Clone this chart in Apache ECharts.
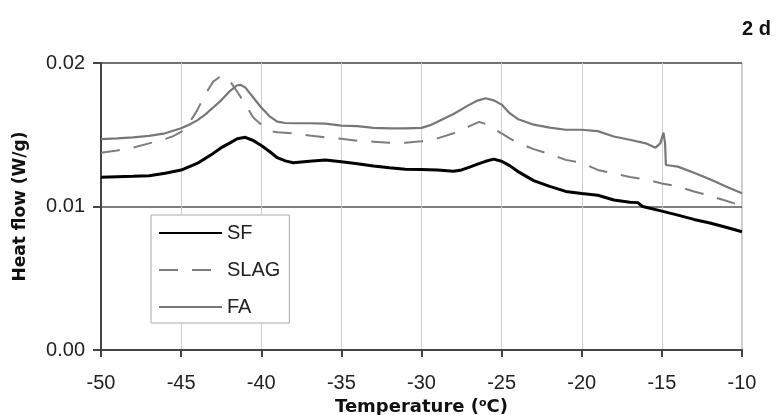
<!DOCTYPE html>
<html>
<head>
<meta charset="utf-8">
<script src="https://cdn.jsdelivr.net/npm/echarts@6/dist/echarts.min.js"></script>
<style>
  html, body { margin: 0; padding: 0; background: #fff; }
  #chart { width: 781px; height: 415px; }
</style>
</head>
<body>
<div id="chart"></div>
<script>
// Heat flow curves (W/g) against temperature (°C), one pair of arrays per binder.
const sfTemp = [-50, -48, -47, -46, -45, -44, -43.5, -43, -42.5, -42, -41.5, -41, -40.5, -40, -39.5, -39, -38.5, -38, -37, -36, -35, -34, -33, -32, -31, -30, -29, -28, -27.5, -27, -26.5, -26, -25.5, -25, -24.5, -24, -23, -22, -21, -20, -19, -18, -17, -16.5, -16.2, -15, -14, -13, -12, -11, -10];
const sfFlow = [0.01203, 0.01210, 0.01215, 0.01232, 0.01254, 0.01300, 0.01335, 0.01370, 0.01410, 0.01440, 0.01472, 0.01482, 0.01460, 0.01425, 0.01385, 0.01340, 0.01318, 0.01305, 0.01315, 0.01324, 0.01312, 0.01298, 0.01283, 0.01270, 0.01260, 0.01258, 0.01255, 0.01245, 0.01255, 0.01275, 0.01295, 0.01315, 0.01330, 0.01315, 0.01285, 0.01245, 0.01180, 0.01140, 0.01105, 0.01090, 0.01078, 0.01045, 0.01030, 0.01027, 0.01000, 0.00968, 0.00940, 0.00910, 0.00885, 0.00855, 0.00824];

const slagTemp = [-50, -49, -48, -47, -46, -45.5, -45, -44.5, -44, -43.5, -43, -42.5, -42, -41.5, -41, -40.5, -40, -39.5, -39, -38, -37, -36, -35, -34, -33, -32, -31, -30, -29, -28, -27, -26.4, -26, -25.5, -25, -24.5, -24, -23, -22, -21, -20, -19, -18, -17, -16, -15, -14, -13, -12, -11, -10];
const slagFlow = [0.01375, 0.01390, 0.01410, 0.01440, 0.01470, 0.01490, 0.01520, 0.01580, 0.01670, 0.01780, 0.01870, 0.01910, 0.01880, 0.01800, 0.01715, 0.01620, 0.01570, 0.01525, 0.01518, 0.01510, 0.01495, 0.01482, 0.01472, 0.01458, 0.01452, 0.01445, 0.01445, 0.01455, 0.01475, 0.01510, 0.01560, 0.01590, 0.01575, 0.01540, 0.01510, 0.01475, 0.01445, 0.01400, 0.01365, 0.01325, 0.01305, 0.01255, 0.01230, 0.01205, 0.01190, 0.01160, 0.01140, 0.01105, 0.01075, 0.01040, 0.01005];

const faTemp = [-50, -49, -48, -47, -46, -45, -44.5, -44, -43.5, -43, -42.5, -42, -41.5, -41.3, -41, -40.5, -40, -39.5, -39, -38.5, -38, -37, -36, -35, -34, -33, -32, -31, -30, -29.5, -29, -28, -27, -26.5, -26, -25.5, -25, -24.5, -24, -23, -22, -21, -20, -19, -18, -17, -16, -15.4, -15.1, -14.9, -14.8, -14.75, -14, -13, -12, -11, -10];
const faFlow = [0.01470, 0.01475, 0.01482, 0.01492, 0.01510, 0.01545, 0.01570, 0.01600, 0.01640, 0.01690, 0.01740, 0.01800, 0.01845, 0.01848, 0.01830, 0.01760, 0.01690, 0.01630, 0.01592, 0.01582, 0.01580, 0.01580, 0.01578, 0.01563, 0.01560, 0.01548, 0.01545, 0.01545, 0.01548, 0.01565, 0.01590, 0.01645, 0.01710, 0.01738, 0.01754, 0.01740, 0.01710, 0.01650, 0.01610, 0.01570, 0.01550, 0.01535, 0.01535, 0.01525, 0.01488, 0.01465, 0.01440, 0.01410, 0.01440, 0.01515, 0.01440, 0.01289, 0.01278, 0.01235, 0.01190, 0.01140, 0.01092];

const seriesNames = ['SF', 'SLAG', 'FA'];
const xTicks = { min: -50, max: -10, step: 5 };
const yTicks = { min: 0, max: 0.02, step: 0.01 };

const FONT = "'Liberation Sans', Arial, sans-serif";
const BOLD_FONT = "'DejaVu Sans', 'Liberation Sans', Arial, sans-serif";
const pairs = (t, v) => t.map((x, i) => [x, v[i]]);

const chart = echarts.init(document.getElementById('chart'), null, { renderer: 'canvas' });
chart.setOption({
  animation: false,
  backgroundColor: '#fff',
  title: {
    text: '2 d',
    right: 5,
    top: 14,
    textStyle: { fontFamily: FONT, fontSize: 20, fontWeight: 'bold', color: '#111' }
  },
  grid: {
    left: 101, right: 39, top: 63, bottom: 65,
    containLabel: false,
    outerBoundsMode: 'none',
    show: true, borderColor: '#999', borderWidth: 1, backgroundColor: 'transparent'
  },
  legend: {
    orient: 'vertical',
    left: 151,
    top: 215,
    padding: [8, 9, 6, 7],
    itemGap: 17,
    itemWidth: 63,
    itemHeight: 20,
    backgroundColor: '#fff',
    borderColor: '#aaa',
    borderWidth: 1,
    borderRadius: 0,
    data: seriesNames,
    itemStyle: { color: 'transparent', borderWidth: 0 },
    textStyle: { fontFamily: FONT, fontSize: 20, color: '#222', padding: [0, 0, 0, 0] }
  },
  xAxis: {
    type: 'value',
    min: xTicks.min, max: xTicks.max, interval: xTicks.step,
    name: 'Temperature ({sup|o}C)',
    nameLocation: 'middle',
    nameGap: 42,
    nameTextStyle: {
      fontFamily: BOLD_FONT, fontSize: 18, fontWeight: 'bold', color: '#111',
      rich: { sup: { fontFamily: BOLD_FONT, fontSize: 11, fontWeight: 'bold', color: '#111', verticalAlign: 'top', padding: [0, 0, 8, 0] } }
    },
    axisLine: { show: true, onZero: false, lineStyle: { color: '#444', width: 2 } },
    axisTick: { show: true, inside: false, length: 7, lineStyle: { color: '#444', width: 2 } },
    axisLabel: { margin: 23, fontFamily: FONT, fontSize: 20, color: '#222' },
    splitLine: { show: true, lineStyle: { color: '#d0d0d0', width: 1 } }
  },
  yAxis: {
    type: 'value',
    min: yTicks.min, max: yTicks.max, interval: yTicks.step,
    name: 'Heat flow (W/g)',
    nameLocation: 'middle',
    nameGap: 72,
    nameTextStyle: { fontFamily: BOLD_FONT, fontSize: 17, fontWeight: 'bold', color: '#111' },
    axisLine: { show: true, onZero: false, lineStyle: { color: '#444', width: 2 } },
    axisTick: { show: true, inside: false, length: 8, lineStyle: { color: '#444', width: 2 } },
    axisLabel: { margin: 16, fontFamily: FONT, fontSize: 20, color: '#222', formatter: v => v.toFixed(2) },
    splitLine: { show: true, lineStyle: { color: '#555', width: 1.5 } }
  },
  series: [
    {
      name: 'SF', type: 'line', symbol: 'none', z: 4,
      data: pairs(sfTemp, sfFlow),
      lineStyle: { color: '#000', width: 3 },
      itemStyle: { color: '#000' }
    },
    {
      name: 'SLAG', type: 'line', symbol: 'none', z: 3,
      data: pairs(slagTemp, slagFlow),
      lineStyle: { color: '#7d7d7d', width: 2, type: [19, 14] },
      itemStyle: { color: '#7d7d7d' }
    },
    {
      name: 'FA', type: 'line', symbol: 'none', z: 3,
      data: pairs(faTemp, faFlow),
      lineStyle: { color: '#777', width: 2.2 },
      itemStyle: { color: '#777' }
    }
  ]
});
</script>
</body>
</html>
